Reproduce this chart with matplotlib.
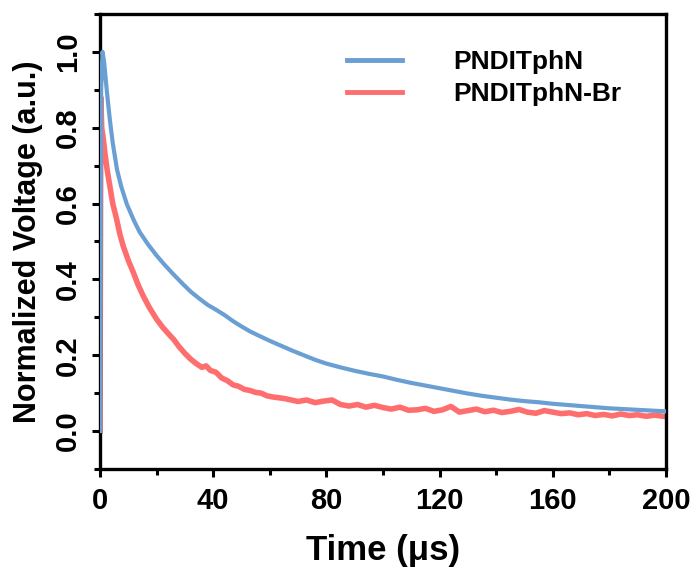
import numpy as np
import matplotlib.pyplot as plt
from matplotlib.ticker import MultipleLocator

plt.rcParams['font.family'] = ['Liberation Sans', 'DejaVu Sans']
plt.rcParams['font.weight'] = 'bold'

# values
t_blue = [0, 0.4, 0.9, 1.5, 2.5, 3.5, 4.5, 6, 7.5, 9.5, 12, 14, 17, 20, 23, 26, 29, 32,
          35, 38, 41, 44, 47, 50, 53, 56, 60, 64, 68, 72, 76, 80, 85, 90, 95, 100, 105,
          110, 115, 120, 125, 130, 135, 140, 145, 150, 155, 160, 165, 170, 175, 180,
          185, 190, 195, 200]
v_blue = [0.0, 0.90, 1.0, 0.97, 0.89, 0.82, 0.76, 0.69, 0.645, 0.598, 0.555, 0.525, 0.492,
          0.463, 0.437, 0.413, 0.39, 0.368, 0.35, 0.333, 0.32, 0.306, 0.29, 0.276, 0.263,
          0.252, 0.238, 0.225, 0.212, 0.20, 0.188, 0.178, 0.168, 0.159, 0.151, 0.144,
          0.135, 0.127, 0.12, 0.113, 0.106, 0.099, 0.093, 0.088, 0.083, 0.079, 0.076,
          0.072, 0.069, 0.066, 0.063, 0.06, 0.058, 0.056, 0.054, 0.052]

t_red = [0, 0.3, 0.6, 1, 1.8, 2.5, 3.5, 4.5, 5.9, 7, 8.2, 10, 11.8, 13.5, 15.3, 17.5, 20,
         22, 24, 26, 28, 30, 32, 34, 36, 37.5, 39, 41, 43, 45, 47, 49, 51, 53, 55, 57, 59,
         61, 63, 65, 67, 70, 73, 76, 79, 82, 85, 88, 91, 94, 97, 100, 103, 106, 109, 112,
         115, 118, 121, 124, 127, 130, 133, 136, 139, 142, 145, 148, 151, 154, 157, 160,
         163, 166, 169, 172, 175, 178, 181, 184, 187, 190, 193, 196, 200]
v_red = [0.0, 0.88, 0.80, 0.78, 0.73, 0.69, 0.645, 0.60, 0.558, 0.52, 0.488, 0.45, 0.418,
         0.385, 0.356, 0.325, 0.295, 0.275, 0.258, 0.242, 0.222, 0.205, 0.19, 0.178, 0.168,
         0.172, 0.16, 0.155, 0.14, 0.133, 0.122, 0.118, 0.11, 0.107, 0.102, 0.10, 0.093,
         0.09, 0.088, 0.086, 0.083, 0.078, 0.082, 0.075, 0.079, 0.082, 0.07, 0.066, 0.07,
         0.063, 0.068, 0.062, 0.058, 0.063, 0.055, 0.056, 0.06, 0.052, 0.056, 0.065, 0.05,
         0.054, 0.058, 0.051, 0.055, 0.049, 0.052, 0.057, 0.05, 0.047, 0.054, 0.05, 0.046,
         0.048, 0.043, 0.046, 0.041, 0.044, 0.04, 0.045, 0.041, 0.043, 0.039, 0.042, 0.038]

labels = ['PNDITphN', 'PNDITphN-Br']

fig = plt.figure(figsize=(6.93, 5.68), dpi=100)
ax = fig.add_axes([0.1443, 0.1743, 0.8167, 0.8011])

ax.plot(t_blue, v_blue, color='#6A9FD4', lw=3.0, label=labels[0], zorder=3)
ax.plot(t_red, v_red, color='#FF6E6E', lw=4.0, label=labels[1], zorder=2)

ax.set_xlim(0, 200)
ax.set_ylim(-0.1, 1.1)
ax.xaxis.set_major_locator(MultipleLocator(40))
ax.xaxis.set_minor_locator(MultipleLocator(20))
ax.yaxis.set_minor_locator(MultipleLocator(0.1))
ax.set_yticks([0.0, 0.2, 0.4, 0.6, 0.8, 1.0])
ax.set_yticklabels(['0.0', '0.2', '0.4', '0.6', '0.8', '1.0'], rotation=90, va='center')

for s in ax.spines.values():
    s.set_linewidth(2.4)
ax.tick_params(which='major', length=6, width=2.2, labelsize=21, pad=7)
ax.tick_params(which='minor', length=4, width=2.2)

ax.set_xlabel('Time (μs)', fontsize=25, fontweight='bold', labelpad=14)
ax.set_ylabel('Normalized Voltage (a.u.)', fontsize=22, fontweight='bold', labelpad=8)

leg = ax.legend(loc='upper left', bbox_to_anchor=(0.436, 0.92), frameon=False,
                fontsize=19, handlelength=2.1, handletextpad=1.95, labelspacing=0.3,
                borderpad=0, borderaxespad=0)
for line in leg.get_lines():
    line.set_linewidth(3.5)

fig.savefig('out.png', dpi=100)
